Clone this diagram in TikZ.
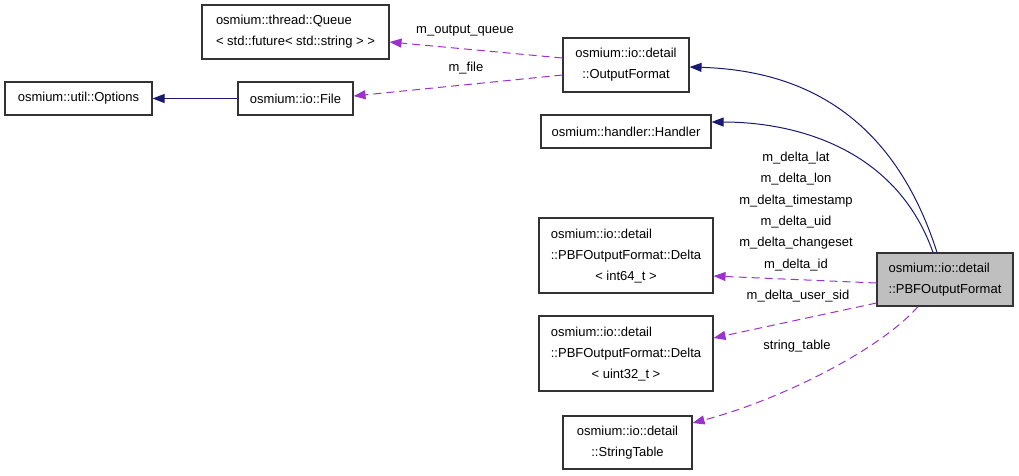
\documentclass[tikz,border=0pt]{standalone}
\usepackage{fontspec}
\setmainfont{Liberation Sans}
\usepackage{tikz}
\usetikzlibrary{arrows.meta}
\definecolor{midnightblue}{HTML}{191970}
\definecolor{darkorchid}{HTML}{9A32CD}

\begin{document}
\begin{tikzpicture}[x=1pt, y=-1pt,
  every node/.style={font=\fontsize{13}{21}\selectfont, inner sep=0pt},
  cls/.style={draw=black!80, line width=1.1pt, fill=white},
  inherit/.style={midnightblue, line width=1pt, -{Triangle[length=12pt,width=9pt]}},
  member/.style={darkorchid, line width=1pt, dash pattern=on 8pt off 5pt, -{Triangle[length=12pt,width=9pt]}}]
\useasboundingbox (0,0) rectangle (1019,475);

\node[cls, minimum width=187, minimum height=54, align=left] (queue) at (295.5,32) {osmium::thread::Queue\\< std::future< std::string > >};
\node[cls, minimum width=126, minimum height=54, align=center] (ofmt) at (626,65) {osmium::io::detail\\::OutputFormat};
\node[cls, minimum width=147, minimum height=33] (opts) at (78.5,98.5) {osmium::util::Options};
\node[cls, minimum width=115, minimum height=33] (file) at (295.5,98.5) {osmium::io::File};
\node[cls, minimum width=170, minimum height=33] (handler) at (626,131.5) {osmium::handler::Handler};
\node[cls, fill=black!25, minimum width=136, minimum height=53, align=left] (pbf) at (945,279.5) {osmium::io::detail\\::PBFOutputFormat};
\node[cls, minimum width=174, minimum height=75] (d64) at (626,255.5) {\begin{tabular}{@{}l@{}}osmium::io::detail\\::PBFOutputFormat::Delta\\\multicolumn{1}{@{}c@{}}{< int64\_t >}\end{tabular}};
\node[cls, minimum width=174, minimum height=75] (d32) at (626,353.5) {\begin{tabular}{@{}l@{}}osmium::io::detail\\::PBFOutputFormat::Delta\\\multicolumn{1}{@{}c@{}}{< uint32\_t >}\end{tabular}};
\node[cls, minimum width=129, minimum height=53, align=center] (strtab) at (627.5,442.5) {osmium::io::detail\\::StringTable};

\draw[inherit] (file.west) -- (opts.east);
\draw[inherit] ([xshift=-8]pbf.north) .. controls (890,105) and (790,70) .. ([yshift=-2]ofmt.east);
\draw[inherit] ([xshift=-12]pbf.north) .. controls (895,145) and (790,122) .. ([yshift=9.5]handler.east);

\draw[member] ([yshift=7]ofmt.west) -- ([yshift=-10]queue.east);
\draw[member] ([yshift=-10]ofmt.west) -- ([yshift=2.5]file.east);
\draw[member] ([yshift=-3.5]pbf.west) -- ([yshift=-20.5]d64.east);
\draw[member] ([yshift=-23.5]pbf.west) -- ([yshift=15.5]d32.east);
\draw[member] ([xshift=-27]pbf.south) .. controls (880,350) and (780,400) .. ([yshift=19.5]strtab.east);

\node (lqueue) at (465,31) {m\_output\_queue};
\node (lfile) at (466,68) {m\_file};
\foreach \lab [count=\i] in {lat,lon,timestamp,uid,changeset,id}
  \node (ldelta\i) at (796,136.6+21.4*\i) {m\_delta\_\lab};
\node (lsid) at (798,296) {m\_delta\_user\_sid};
\node (lstr) at (797,346) {string\_table};
\end{tikzpicture}
\end{document}
